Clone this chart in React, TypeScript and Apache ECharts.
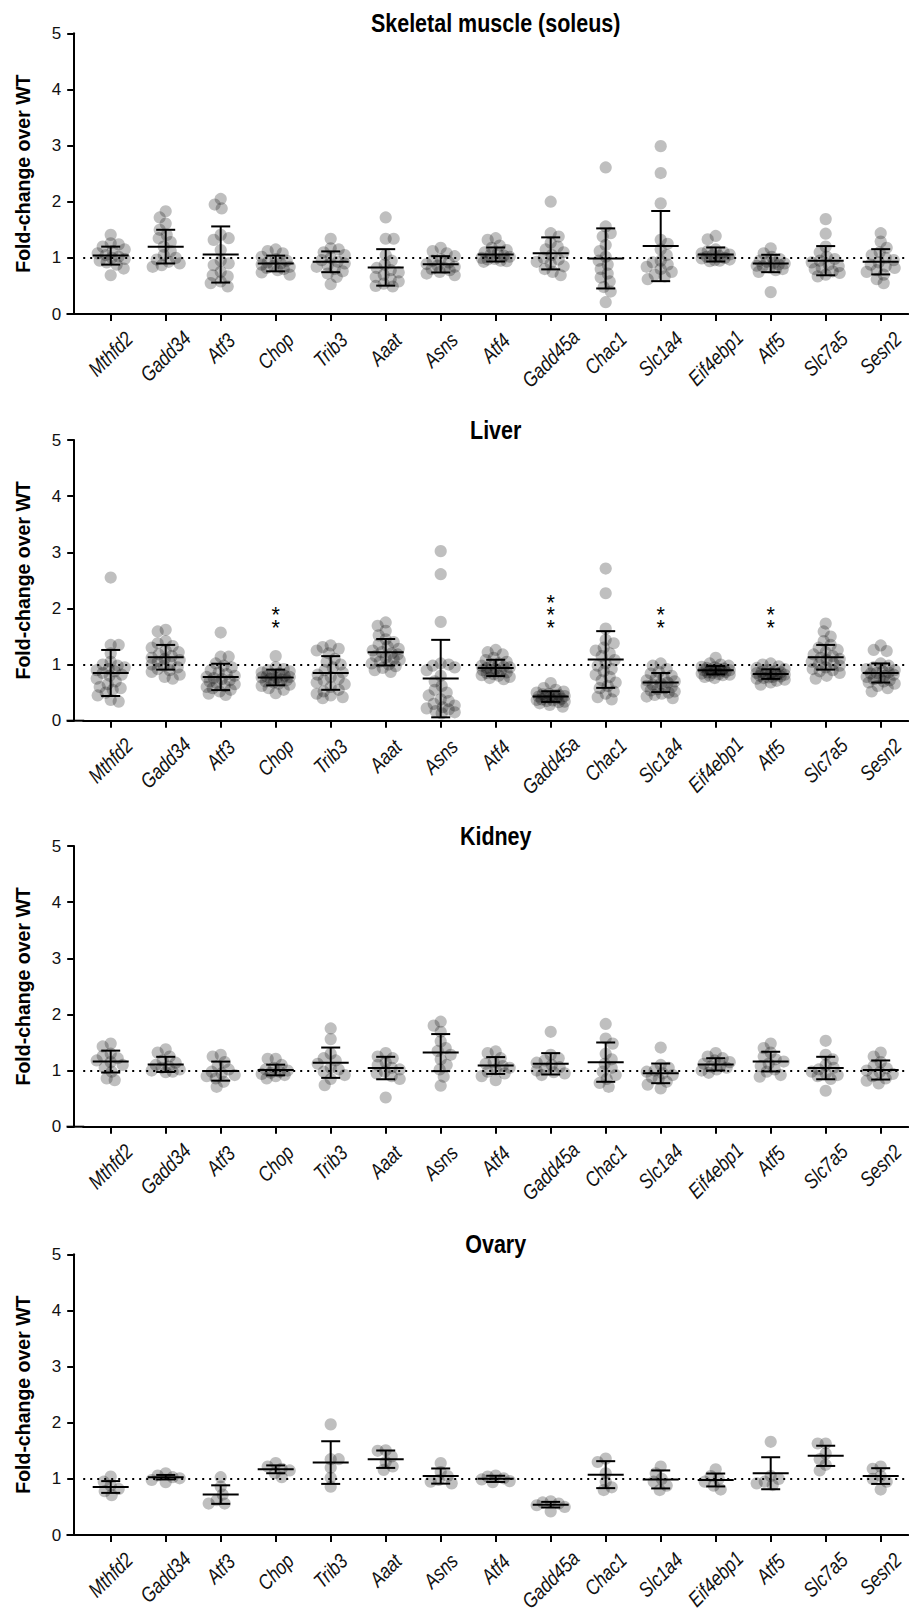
import { useEffect, useRef } from 'react';
import * as echarts from 'echarts';

// ---------------- DATA ----------------
const genes = ['Mthfd2', 'Gadd34', 'Atf3', 'Chop', 'Trib3', 'Aaat', 'Asns', 'Atf4', 'Gadd45a', 'Chac1', 'Slc1a4', 'Eif4ebp1', 'Atf5', 'Slc7a5', 'Sesn2'];
const panelTitles = ['Skeletal muscle (soleus)', 'Liver', 'Kidney', 'Ovary'];
const yAxisTitle = 'Fold-change over WT';
const yMin = 0;
const yMax = 5;
const yStep = 1;
const referenceLevel = 1;

const skeletalValues = [
  [1.41, 1.26, 1.24, 1.20, 1.15, 1.12, 1.08, 1.05, 1.02, 1.00, 0.98, 0.95, 0.92, 0.88, 0.81, 0.69],
  [1.83, 1.72, 1.61, 1.50, 1.41, 1.35, 1.28, 1.20, 1.12, 1.05, 1.00, 0.97, 0.93, 0.90, 0.87, 0.84],
  [2.05, 1.95, 1.88, 1.41, 1.35, 1.32, 1.14, 0.95, 0.90, 0.87, 0.75, 0.69, 0.67, 0.58, 0.49, 0.55],
  [1.15, 1.12, 1.08, 1.02, 0.98, 0.95, 0.92, 0.90, 0.88, 0.86, 0.84, 0.82, 0.80, 0.78, 0.74, 0.70],
  [1.34, 1.17, 1.15, 1.10, 1.05, 1.00, 0.96, 0.93, 0.90, 0.87, 0.84, 0.80, 0.76, 0.72, 0.66, 0.53],
  [1.72, 1.34, 1.34, 1.05, 0.95, 0.88, 0.82, 0.78, 0.74, 0.70, 0.66, 0.62, 0.58, 0.54, 0.50, 0.49],
  [1.18, 1.12, 1.08, 1.03, 0.98, 0.95, 0.92, 0.89, 0.86, 0.84, 0.82, 0.80, 0.78, 0.75, 0.72, 0.69],
  [1.35, 1.32, 1.22, 1.18, 1.14, 1.10, 1.08, 1.06, 1.04, 1.02, 1.00, 0.98, 0.97, 0.95, 0.94, 0.93],
  [2.00, 1.44, 1.38, 1.27, 1.20, 1.15, 1.10, 1.05, 1.00, 0.97, 0.93, 0.90, 0.85, 0.80, 0.75, 0.69],
  [2.61, 1.56, 1.44, 1.38, 1.23, 1.12, 1.02, 0.95, 0.88, 0.80, 0.72, 0.65, 0.58, 0.48, 0.40, 0.21],
  [2.99, 2.51, 1.97, 1.32, 1.25, 1.15, 1.05, 0.95, 0.92, 0.88, 0.84, 0.80, 0.75, 0.70, 0.67, 0.62],
  [1.39, 1.33, 1.15, 1.12, 1.10, 1.08, 1.06, 1.05, 1.04, 1.02, 1.00, 0.99, 0.97, 0.96, 0.95, 0.94],
  [1.17, 1.08, 1.02, 0.98, 0.95, 0.93, 0.91, 0.90, 0.88, 0.86, 0.85, 0.83, 0.80, 0.78, 0.75, 0.39],
  [1.69, 1.43, 1.20, 1.10, 1.02, 0.98, 0.95, 0.92, 0.88, 0.85, 0.82, 0.80, 0.76, 0.73, 0.70, 0.67],
  [1.44, 1.29, 1.18, 1.10, 1.05, 1.00, 0.96, 0.92, 0.88, 0.85, 0.82, 0.78, 0.75, 0.70, 0.62, 0.55],
];
const skeletalMean = [1.04, 1.20, 1.06, 0.90, 0.93, 0.83, 0.885, 1.06, 1.08, 0.99, 1.21, 1.06, 0.90, 0.95, 0.93];
const skeletalSD = [0.16, 0.30, 0.50, 0.14, 0.185, 0.325, 0.145, 0.125, 0.285, 0.535, 0.625, 0.125, 0.155, 0.26, 0.225];
const skeletalStars = [0, 0, 0, 0, 0, 0, 0, 0, 0, 0, 0, 0, 0, 0, 0];

const liverValues = [
  [2.55, 1.35, 1.35, 1.20, 1.05, 1.00, 0.98, 0.95, 0.92, 0.90, 0.88, 0.85, 0.82, 0.80, 0.75, 0.70, 0.65, 0.60, 0.58, 0.55, 0.50, 0.45, 0.37, 0.34],
  [1.62, 1.59, 1.42, 1.38, 1.33, 1.30, 1.25, 1.22, 1.18, 1.15, 1.12, 1.10, 1.08, 1.05, 1.02, 1.00, 0.98, 0.95, 0.92, 0.90, 0.87, 0.82, 0.78, 0.75],
  [1.57, 1.14, 1.14, 1.02, 0.98, 0.95, 0.90, 0.86, 0.83, 0.80, 0.78, 0.76, 0.74, 0.72, 0.70, 0.67, 0.65, 0.62, 0.60, 0.58, 0.55, 0.52, 0.48, 0.46],
  [1.15, 0.95, 0.92, 0.90, 0.88, 0.86, 0.84, 0.82, 0.80, 0.79, 0.78, 0.77, 0.76, 0.75, 0.73, 0.72, 0.70, 0.68, 0.66, 0.64, 0.62, 0.58, 0.55, 0.49],
  [1.34, 1.31, 1.28, 1.25, 1.20, 1.10, 1.05, 1.00, 0.95, 0.90, 0.86, 0.82, 0.78, 0.75, 0.72, 0.68, 0.65, 0.60, 0.55, 0.52, 0.48, 0.45, 0.42, 0.40],
  [1.75, 1.69, 1.60, 1.52, 1.45, 1.40, 1.36, 1.32, 1.28, 1.25, 1.22, 1.20, 1.18, 1.15, 1.12, 1.10, 1.08, 1.05, 1.02, 1.00, 0.97, 0.94, 0.90, 0.87],
  [3.02, 2.61, 1.76, 1.02, 1.00, 0.98, 0.95, 0.90, 0.80, 0.70, 0.62, 0.55, 0.50, 0.45, 0.38, 0.35, 0.30, 0.27, 0.24, 0.22, 0.20, 0.17, 0.15, 0.13],
  [1.26, 1.22, 1.18, 1.12, 1.08, 1.05, 1.02, 1.00, 0.98, 0.96, 0.95, 0.94, 0.92, 0.91, 0.90, 0.88, 0.86, 0.85, 0.83, 0.81, 0.80, 0.78, 0.76, 0.74],
  [0.67, 0.58, 0.55, 0.52, 0.50, 0.48, 0.47, 0.46, 0.45, 0.44, 0.43, 0.42, 0.41, 0.40, 0.39, 0.38, 0.37, 0.36, 0.35, 0.34, 0.33, 0.31, 0.28, 0.25],
  [2.71, 2.27, 1.64, 1.44, 1.38, 1.30, 1.25, 1.20, 1.15, 1.08, 1.02, 0.98, 0.92, 0.88, 0.82, 0.78, 0.72, 0.68, 0.62, 0.58, 0.52, 0.48, 0.42, 0.38],
  [1.02, 0.98, 0.92, 0.87, 0.84, 0.80, 0.77, 0.75, 0.72, 0.70, 0.68, 0.66, 0.64, 0.62, 0.60, 0.58, 0.56, 0.54, 0.52, 0.50, 0.48, 0.46, 0.43, 0.40],
  [1.12, 1.02, 1.00, 0.98, 0.96, 0.95, 0.94, 0.93, 0.92, 0.91, 0.90, 0.90, 0.89, 0.88, 0.87, 0.86, 0.85, 0.84, 0.83, 0.82, 0.81, 0.80, 0.78, 0.76],
  [1.02, 1.00, 0.97, 0.94, 0.92, 0.90, 0.88, 0.87, 0.86, 0.85, 0.84, 0.83, 0.82, 0.81, 0.80, 0.79, 0.78, 0.77, 0.76, 0.75, 0.73, 0.71, 0.68, 0.64],
  [1.73, 1.59, 1.50, 1.42, 1.35, 1.30, 1.26, 1.22, 1.18, 1.15, 1.12, 1.10, 1.08, 1.05, 1.02, 1.00, 0.98, 0.95, 0.92, 0.90, 0.88, 0.85, 0.80, 0.75],
  [1.34, 1.26, 1.24, 1.02, 0.98, 0.95, 0.92, 0.90, 0.88, 0.86, 0.85, 0.84, 0.82, 0.80, 0.78, 0.76, 0.74, 0.72, 0.70, 0.68, 0.66, 0.62, 0.58, 0.52],
];
const liverMean = [0.85, 1.13, 0.78, 0.77, 0.85, 1.22, 0.75, 0.94, 0.43, 1.09, 0.68, 0.90, 0.83, 1.13, 0.85];
const liverSD = [0.41, 0.22, 0.235, 0.14, 0.30, 0.235, 0.69, 0.145, 0.095, 0.505, 0.17, 0.075, 0.085, 0.22, 0.17];
const liverStars = [0, 0, 0, 2, 0, 0, 0, 0, 3, 0, 2, 0, 2, 0, 0];

const kidneyValues = [
  [1.48, 1.43, 1.30, 1.26, 1.22, 1.18, 1.15, 1.10, 1.05, 0.98, 0.86, 0.83],
  [1.38, 1.32, 1.25, 1.18, 1.14, 1.10, 1.07, 1.05, 1.02, 1.00, 0.98, 0.97],
  [1.28, 1.25, 1.15, 1.08, 1.02, 0.98, 0.95, 0.92, 0.90, 0.86, 0.80, 0.71],
  [1.21, 1.21, 1.10, 1.05, 1.02, 1.00, 0.98, 0.96, 0.94, 0.92, 0.90, 0.86],
  [1.75, 1.56, 1.30, 1.22, 1.18, 1.12, 1.05, 1.02, 0.98, 0.92, 0.85, 0.74],
  [1.31, 1.25, 1.22, 1.15, 1.10, 1.05, 1.02, 0.98, 0.95, 0.90, 0.85, 0.52],
  [1.87, 1.80, 1.69, 1.52, 1.40, 1.35, 1.28, 1.20, 1.10, 1.02, 0.89, 0.73],
  [1.34, 1.31, 1.22, 1.15, 1.12, 1.08, 1.05, 1.02, 0.98, 0.95, 0.90, 0.83],
  [1.69, 1.28, 1.22, 1.18, 1.14, 1.10, 1.06, 1.03, 1.00, 0.97, 0.95, 0.92],
  [1.83, 1.57, 1.48, 1.30, 1.20, 1.12, 1.05, 0.98, 0.92, 0.85, 0.78, 0.71],
  [1.41, 1.10, 1.05, 1.00, 0.98, 0.95, 0.92, 0.88, 0.85, 0.80, 0.75, 0.68],
  [1.31, 1.25, 1.22, 1.18, 1.15, 1.12, 1.10, 1.07, 1.05, 1.02, 1.00, 0.96],
  [1.48, 1.40, 1.32, 1.25, 1.20, 1.16, 1.12, 1.08, 1.02, 0.98, 0.92, 0.89],
  [1.53, 1.28, 1.20, 1.10, 1.05, 1.02, 0.98, 0.95, 0.92, 0.90, 0.85, 0.64],
  [1.32, 1.25, 1.15, 1.08, 1.04, 1.00, 0.97, 0.94, 0.90, 0.86, 0.82, 0.77],
];
const kidneyMean = [1.16, 1.11, 0.99, 1.01, 1.14, 1.045, 1.32, 1.09, 1.12, 1.15, 0.95, 1.11, 1.16, 1.045, 1.01];
const kidneySD = [0.195, 0.135, 0.17, 0.095, 0.27, 0.20, 0.33, 0.15, 0.19, 0.35, 0.175, 0.11, 0.175, 0.20, 0.17];
const kidneyStars = [0, 0, 0, 0, 0, 0, 0, 0, 0, 0, 0, 0, 0, 0, 0];

const ovaryValues = [
  [1.04, 0.95, 0.88, 0.82, 0.78, 0.71],
  [1.10, 1.06, 1.03, 1.01, 0.98, 0.94],
  [1.03, 0.86, 0.72, 0.62, 0.56, 0.56],
  [1.28, 1.22, 1.18, 1.15, 1.10, 1.03],
  [1.97, 1.35, 1.35, 1.20, 1.02, 0.86],
  [1.51, 1.50, 1.40, 1.30, 1.22, 1.16],
  [1.28, 1.12, 1.05, 0.98, 0.95, 0.92],
  [1.06, 1.04, 1.01, 0.99, 0.96, 0.94],
  [0.60, 0.58, 0.56, 0.53, 0.50, 0.42],
  [1.36, 1.30, 1.10, 0.95, 0.85, 0.80],
  [1.22, 1.10, 1.00, 0.95, 0.88, 0.80],
  [1.17, 1.05, 1.00, 0.95, 0.88, 0.81],
  [1.66, 1.05, 1.00, 0.95, 0.92, 0.89],
  [1.63, 1.63, 1.45, 1.35, 1.25, 1.15],
  [1.22, 1.18, 1.05, 1.00, 0.95, 0.81],
];
const ovaryMean = [0.855, 1.03, 0.72, 1.17, 1.29, 1.35, 1.05, 1.00, 0.54, 1.075, 0.99, 0.98, 1.10, 1.41, 1.05];
const ovarySD = [0.105, 0.04, 0.165, 0.07, 0.38, 0.155, 0.135, 0.055, 0.05, 0.24, 0.16, 0.115, 0.285, 0.18, 0.14];
const ovaryStars = [0, 0, 0, 0, 0, 0, 0, 0, 0, 0, 0, 0, 0, 0, 0];

// ---------------- LAYOUT / STYLE ----------------
const W = 909;
const H = 1616;
const FONT = '"Liberation Sans", Arial, Helvetica, sans-serif';
const PLOT_TOPS = [33.3, 440, 846, 1254.3];
const PLOT_H = 280.7;
const GRID_LEFT = 83.2;
const GRID_RIGHT = 0.8;
const PX_PER_UNIT = PLOT_H / (yMax - yMin);
const DOT_R = 6.1;
const LABEL_FS = 21;
const LABEL_SQUEEZE = 0.82; // condensed look of the original typeface
const LABEL_BASE_GAP = 22;
const LABEL_HALF_FACTOR = 0.75;
const TITLE_FS = 25;
const TITLE_SQUEEZE = 0.86;
const STAR_FS = 12;
const STAR_SCALE = 1.8;
const STAR_BASE = 1.75;
const STAR_STEP = 0.226;

function swarmOffsets(vals: number[]): number[] {
  const DIST = 8;
  const STEP = 1;
  const MAXOFF = 14;
  const order = vals.map((_, i) => i).sort((a, b) => vals[b] - vals[a]);
  const placed: [number, number][] = [];
  const out = new Array(vals.length).fill(0);
  order.forEach((idx, n) => {
    const y = vals[idx] * PX_PER_UNIT;
    const sign = n % 2 === 0 ? 1 : -1;
    let best = 0;
    let bestD = -1;
    const kMax = Math.round((2 * MAXOFF) / STEP);
    for (let k = 0; k <= kMax; k++) {
      const mag = Math.ceil(k / 2) * STEP;
      const cand = k === 0 ? 0 : (k % 2 === 1 ? sign : -sign) * mag;
      let minD = Infinity;
      for (const [px, py] of placed) {
        const d = Math.hypot(px - cand, py - y);
        if (d < minD) minD = d;
      }
      if (minD >= DIST) {
        best = cand;
        bestD = minD;
        break;
      }
      if (minD > bestD) {
        best = cand;
        bestD = minD;
      }
    }
    placed.push([best, y]);
    out[idx] = best;
  });
  return out;
}

export default function App() {
  const ref = useRef<HTMLDivElement>(null);

  useEffect(() => {
    if (!ref.current) return;
    const chart = echarts.init(ref.current, undefined, { renderer: 'svg', width: W, height: H });

    const labelFont = `italic ${LABEL_FS}px ${FONT}`;
    const canvas = document.createElement('canvas');
    const ctx = canvas.getContext('2d') as CanvasRenderingContext2D;
    ctx.font = labelFont;
    const labelWidths = genes.map((g) => ctx.measureText(g).width * LABEL_SQUEEZE);

    const panels = [
      { title: panelTitles[0], values: skeletalValues, mean: skeletalMean, sd: skeletalSD, stars: skeletalStars },
      { title: panelTitles[1], values: liverValues, mean: liverMean, sd: liverSD, stars: liverStars },
      { title: panelTitles[2], values: kidneyValues, mean: kidneyMean, sd: kidneySD, stars: kidneyStars },
      { title: panelTitles[3], values: ovaryValues, mean: ovaryMean, sd: ovarySD, stars: ovaryStars },
    ];

    const grid: any[] = [];
    const xAxis: any[] = [];
    const yAxis: any[] = [];
    const series: any[] = [];
    const graphic: any[] = [];

    panels.forEach((pn, p) => {
      grid.push({ left: GRID_LEFT, right: GRID_RIGHT, top: PLOT_TOPS[p], height: PLOT_H, containLabel: false, outerBoundsMode: 'none' });
      xAxis.push({
        type: 'category',
        gridIndex: p,
        data: genes,
        boundaryGap: true,
        axisLine: { show: true, lineStyle: { color: '#000', width: 2 } },
        axisTick: { show: true, alignWithLabel: true, interval: 0, length: 7, lineStyle: { color: '#000', width: 2 } },
        axisLabel: { show: false, interval: 0 },
        splitLine: { show: false },
      });
      yAxis.push({
        type: 'value',
        gridIndex: p,
        min: yMin,
        max: yMax,
        interval: yStep,
        offset: 9,
        axisLine: { show: true, lineStyle: { color: '#000', width: 2 } },
        axisTick: { show: true, length: 7, lineStyle: { color: '#000', width: 2 } },
        axisLabel: { fontSize: 17, color: '#111', margin: 13, fontFamily: FONT },
        splitLine: { show: false },
      });

      const dotData: number[][] = [];
      pn.values.forEach((vals, i) => {
        const offs = swarmOffsets(vals);
        vals.forEach((v, j) => dotData.push([i, v, offs[j]]));
      });
      series.push({
        type: 'custom',
        xAxisIndex: p,
        yAxisIndex: p,
        silent: true,
        clip: false,
        z: 2,
        data: dotData,
        encode: { x: 0, y: 1 },
        renderItem: (params: any, api: any) => {
          const c = api.coord([api.value(0), api.value(1)]);
          return {
            type: 'circle',
            shape: { cx: c[0] + api.value(2), cy: c[1], r: DOT_R },
            style: { fill: 'rgba(0,0,0,0.25)' },
          };
        },
      });

      series.push({
        type: 'custom',
        xAxisIndex: p,
        yAxisIndex: p,
        silent: true,
        clip: false,
        z: 4,
        data: pn.mean.map((m, i) => [i, m, pn.sd[i]]),
        encode: { x: 0, y: 1 },
        renderItem: (params: any, api: any) => {
          const i = api.value(0);
          const m = api.value(1);
          const s = api.value(2);
          const c = api.coord([i, m]);
          const top = api.coord([i, m + s])[1];
          const bot = api.coord([i, m - s])[1];
          const st = { stroke: '#000', lineWidth: 2 };
          return {
            type: 'group',
            children: [
              { type: 'line', shape: { x1: c[0] - 18, y1: c[1], x2: c[0] + 18, y2: c[1] }, style: st },
              { type: 'line', shape: { x1: c[0], y1: top, x2: c[0], y2: bot }, style: st },
              { type: 'line', shape: { x1: c[0] - 9.5, y1: top, x2: c[0] + 9.5, y2: top }, style: st },
              { type: 'line', shape: { x1: c[0] - 9.5, y1: bot, x2: c[0] + 9.5, y2: bot }, style: st },
            ],
          };
        },
        markLine: {
          silent: true,
          symbol: 'none',
          z: 3,
          label: { show: false },
          lineStyle: { color: '#000', width: 2, type: [2, 5] },
          data: [{ yAxis: referenceLevel }],
        },
      });

      const starData = pn.stars.map((n, i) => [i, n]).filter((d) => d[1] > 0);
      if (starData.length) {
        series.push({
          type: 'custom',
          xAxisIndex: p,
          yAxisIndex: p,
          silent: true,
          clip: false,
          z: 5,
          data: starData,
          encode: { x: 0, y: 1 },
          renderItem: (params: any, api: any) => {
            const i = api.value(0);
            const n = api.value(1);
            const children: any[] = [];
            for (let k = 0; k < n; k++) {
              const c = api.coord([i, STAR_BASE + k * STAR_STEP]);
              children.push({
                type: 'text',
                x: c[0],
                y: c[1] + 0.23 * STAR_FS * STAR_SCALE,
                scaleX: STAR_SCALE,
                scaleY: STAR_SCALE,
                style: { text: '*', align: 'center', verticalAlign: 'middle', fill: '#000', font: `${STAR_FS}px ${FONT}` },
              });
            }
            return { type: 'group', children };
          },
        });
      }

      const axisY = PLOT_TOPS[p] + PLOT_H;
      graphic.push({
        type: 'text',
        x: (GRID_LEFT + 27.5 + (W - GRID_RIGHT - 27.5)) / 2,
        y: PLOT_TOPS[p] - 10,
        scaleX: TITLE_SQUEEZE,
        silent: true,
        style: { text: pn.title, align: 'center', verticalAlign: 'middle', fill: '#000', font: `bold ${TITLE_FS}px ${FONT}` },
      });
      graphic.push({
        type: 'text',
        x: 22.5,
        y: PLOT_TOPS[p] + PLOT_H / 2,
        rotation: Math.PI / 2,
        silent: true,
        style: { text: yAxisTitle, align: 'center', verticalAlign: 'middle', fill: '#000', font: `bold 19.5px ${FONT}` },
      });
      graphic.push({
        type: 'line',
        silent: true,
        shape: { x1: 66.5, y1: axisY, x2: GRID_LEFT + 1, y2: axisY },
        style: { stroke: '#000', lineWidth: 2 },
      });
    });

    chart.setOption({
      animation: false,
      backgroundColor: '#fff',
      grid,
      xAxis,
      yAxis,
      series,
      graphic,
    });

    // rotated category labels: placed through the axes' own scale, centred below each tick
    const labelGraphics: any[] = [];
    panels.forEach((_, p) => {
      genes.forEach((g, i) => {
        const pt = chart.convertToPixel({ gridIndex: p } as any, [i, 0]) as number[];
        const w = labelWidths[i];
        const hgt = 0.72 * LABEL_FS;
        const half = (w + hgt) / (2 * Math.SQRT2);
        const cy = pt[1] + LABEL_BASE_GAP + LABEL_HALF_FACTOR * half;
        labelGraphics.push({
          type: 'text',
          x: pt[0],
          y: cy,
          rotation: Math.PI / 4,
          scaleX: LABEL_SQUEEZE,
          silent: true,
          style: { text: g, align: 'center', verticalAlign: 'middle', fill: '#111', font: labelFont },
        });
      });
    });
    chart.setOption({ graphic: graphic.concat(labelGraphics) });

    return () => chart.dispose();
  }, []);

  return <div ref={ref} style={{ position: 'absolute', left: 0, top: 0, width: W, height: H }} />;
}
